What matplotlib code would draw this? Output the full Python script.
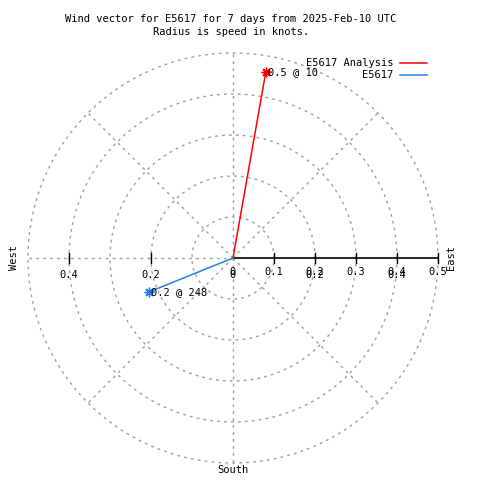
import numpy as np
import matplotlib
matplotlib.use('Agg')
from matplotlib import pyplot as plt

# wind vectors: speed (knots) and direction (degrees, compass)
names = ['E5617 Analysis', 'E5617']
speeds = [0.46, 0.22]
dirs = [10, 248]
colors = ['#ff0000', '#1e80e8']

rings = [0.1, 0.2, 0.3, 0.4, 0.5]
east_ticks = [0, 0.1, 0.2, 0.3, 0.4, 0.5]
cross_ticks = [-0.4, -0.2, 0, 0.2, 0.4]
rmax = 0.5

plt.rcParams['font.family'] = ['DejaVu Sans Mono']
fs = 7.5
grey = '#a0a0a0'
dash = (0, (2, 3))

fig = plt.figure(figsize=(4.8, 4.8), dpi=100)
ax = fig.add_axes([0, 0, 1, 1])
px = 1 / 410.0  # one pixel in data units
ax.set_xlim(-233 * px, 247 * px)
ax.set_ylim(-222 * px, 258 * px)
ax.set_aspect('equal')
ax.axis('off')

# rings
t = np.linspace(0, 2 * np.pi, 400)
for r in rings:
    ax.plot(r * np.cos(t), r * np.sin(t), color=grey, lw=1, ls=dash)

# spokes every 45 degrees
for a in range(45, 360, 45):
    ang = np.radians(a)
    ax.plot([0, rmax * np.cos(ang)], [0, rmax * np.sin(ang)], color=grey, lw=1, ls=dash)

# east axis
ax.plot([0, rmax], [0, 0], color='black', lw=1.2)
tk = 5 * px
for v in east_ticks[1:]:
    ax.plot([v, v], [-tk, tk], color='black', lw=1)
for v in cross_ticks:
    if v < 0:
        ax.plot([v, v], [-tk, tk], color='black', lw=1)
# gnuplot draws both label sets on top of each other, as in the original
for v in east_ticks:
    ax.text(v, -14 * px, '%g' % v, ha='center', va='center', fontsize=fs)
for v in cross_ticks:
    ax.text(v, -17 * px, '%g' % abs(v), ha='center', va='center', fontsize=fs)

# compass labels
ax.text(-219 * px, 0, 'West', rotation=90, ha='center', va='center', fontsize=fs)
ax.text(218 * px, 0, 'East', rotation=90, ha='center', va='center', fontsize=fs)
ax.text(0, -212 * px, 'South', ha='center', va='center', fontsize=fs)

# vectors
for i in range(len(names)):
    ang = np.radians(90 - dirs[i])
    x = speeds[i] * np.cos(ang)
    y = speeds[i] * np.sin(ang)
    ax.plot([0, x], [0, y], color=colors[i], lw=1.1)
    ax.plot(x, y, marker=(8, 2, 0), color=colors[i], ms=7, mew=1)
    ax.text(x + 2 * px, y, '%.1f @ %d' % (speeds[i], dirs[i]), ha='left', va='center', fontsize=fs)

# legend
for i in range(len(names)):
    ly = (195 - 12 * i) * px
    ax.text(160 * px, ly, names[i], ha='right', va='center', fontsize=fs)
    ax.plot([167 * px, 194 * px], [ly, ly], color=colors[i], lw=1.1)

fig.text(231 / 480, 1 - 19 / 480, 'Wind vector for E5617 for 7 days from 2025-Feb-10 UTC',
         ha='center', va='center', fontsize=fs)
fig.text(231 / 480, 1 - 32 / 480, 'Radius is speed in knots.', ha='center', va='center', fontsize=fs)

fig.savefig('out.png', dpi=100)
